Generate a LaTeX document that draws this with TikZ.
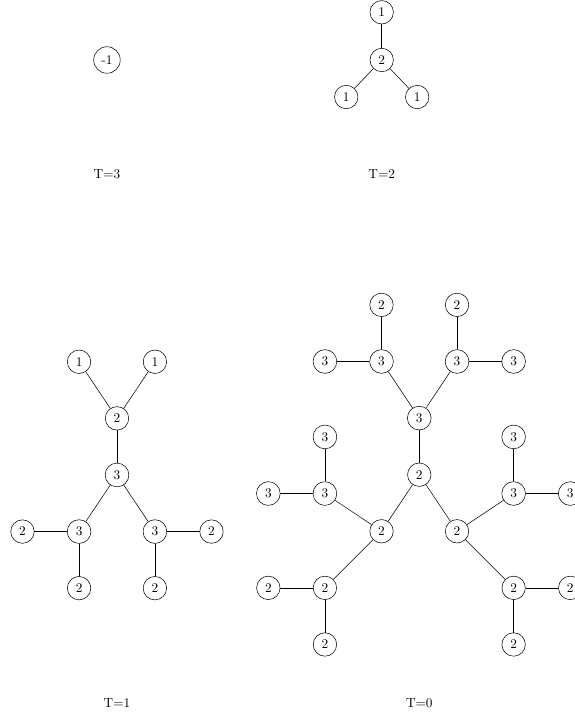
\documentclass[tikz,border=0pt]{standalone}
\usepackage{tikz}
\usetikzlibrary{positioning}

\begin{document}
\begin{tikzpicture}[
    x=1.5cm, y=1.5cm,
    vertex/.style={draw, circle},
    steplabel/.style={}
]
    \useasboundingbox (0,0) rectangle (10.159,-12.58);

    % T=3
    \node[vertex] (a0) at (1.890,-1.060) {-1};
    \node[steplabel] (la) at (1.890,-3.074) {T=3};

    % T=2
    \begin{scope}[shift={(6.744,-1.060)}]
        \node[vertex] (b0) at (0,0) {2};
        \node[vertex] (b1) at (0,0.843) {1};
        \node[vertex] (b2) at (-0.627,-0.654) {1};
        \node[vertex] (b3) at (0.627,-0.654) {1};
    \end{scope}
    \node[steplabel] (lb) at (6.744,-3.074) {T=2};
    \draw (b0) -- (b1);
    \draw (b0) -- (b2);
    \draw (b0) -- (b3);

    % T=1
    \begin{scope}[shift={(2.067,-8.392)}]
        \node[vertex] (c0) at (0,0) {3};
        \node[vertex] (c1) at (0,1) {2};
        \node[vertex] (c2) at (-0.67,2) {1};
        \node[vertex] (c3) at (0.67,2) {1};
        \node[vertex] (c4) at (-0.67,-1) {3};
        \node[vertex] (c5) at (0.67,-1) {3};
        \node[vertex] (c6) at (-1.67,-1) {2};
        \node[vertex] (c7) at (-0.67,-2) {2};
        \node[vertex] (c8) at (1.67,-1) {2};
        \node[vertex] (c9) at (0.67,-2) {2};
    \end{scope}
    \node[steplabel] (lc) at (2.067,-12.42) {T=1};
    \draw (c0) -- (c1);
    \draw (c1) -- (c2);
    \draw (c1) -- (c3);
    \draw (c0) -- (c4);
    \draw (c0) -- (c5);
    \draw (c4) -- (c6);
    \draw (c4) -- (c7);
    \draw (c5) -- (c8);
    \draw (c5) -- (c9);

    % T=0
    \begin{scope}[shift={(7.408,-8.387)}]
        \node[vertex] (d0) at (0,0) {2};
        \node[vertex] (d1) at (0,1) {3};
        \node[vertex] (d2) at (-0.667,2) {3};
        \node[vertex] (d3) at (0.667,2) {3};
        \node[vertex] (d4) at (-1.667,2) {3};
        \node[vertex] (d5) at (-0.667,3) {2};
        \node[vertex] (d6) at (1.667,2) {3};
        \node[vertex] (d7) at (0.667,3) {2};
        \node[vertex] (d8) at (-0.667,-1) {2};
        \node[vertex] (d9) at (0.667,-1) {2};
        \node[vertex] (d10) at (-1.667,-0.333) {3};
        \node[vertex] (d11) at (-1.667,0.667) {3};
        \node[vertex] (d12) at (-2.667,-0.333) {3};
        \node[vertex] (d13) at (1.667,-0.333) {3};
        \node[vertex] (d14) at (1.667,0.667) {3};
        \node[vertex] (d15) at (2.667,-0.333) {3};
        \node[vertex] (d16) at (-1.667,-2) {2};
        \node[vertex] (d17) at (-2.667,-2) {2};
        \node[vertex] (d18) at (-1.667,-3) {2};
        \node[vertex] (d19) at (1.667,-2) {2};
        \node[vertex] (d20) at (2.667,-2) {2};
        \node[vertex] (d21) at (1.667,-3) {2};
    \end{scope}
    \node[steplabel] (ld) at (7.408,-12.42) {T=0};
    \draw (d0) -- (d1);
    \draw (d1) -- (d2);
    \draw (d1) -- (d3);
    \draw (d2) -- (d4);
    \draw (d2) -- (d5);
    \draw (d3) -- (d6);
    \draw (d3) -- (d7);
    \draw (d0) -- (d8);
    \draw (d0) -- (d9);
    \draw (d8) -- (d10);
    \draw (d10) -- (d11);
    \draw (d10) -- (d12);
    \draw (d9) -- (d13);
    \draw (d13) -- (d14);
    \draw (d13) -- (d15);
    \draw (d8) -- (d16);
    \draw (d16) -- (d17);
    \draw (d16) -- (d18);
    \draw (d9) -- (d19);
    \draw (d19) -- (d20);
    \draw (d19) -- (d21);
\end{tikzpicture}
\end{document}
